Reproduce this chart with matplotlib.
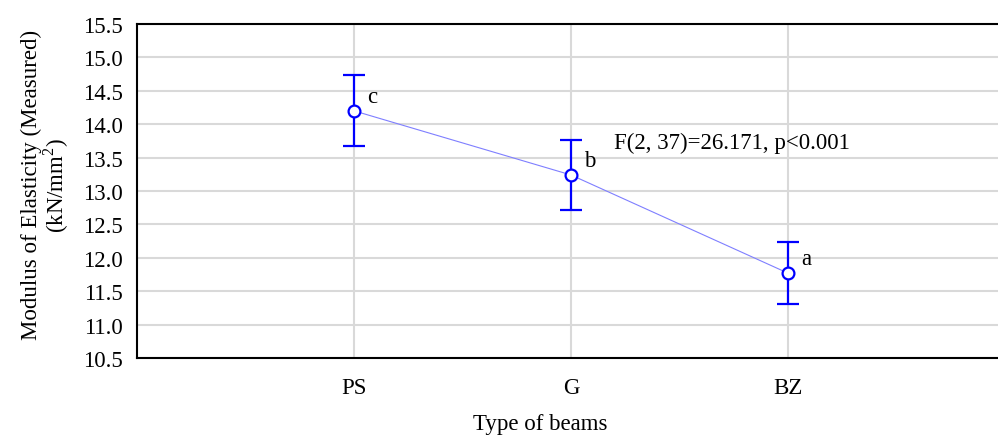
import matplotlib.pyplot as plt
import numpy as np

plt.rcParams['font.family'] = ['Liberation Serif', 'DejaVu Serif']
plt.rcParams['mathtext.fontset'] = 'custom'
plt.rcParams['mathtext.rm'] = 'Liberation Serif'

# data
beams = ['PS', 'G', 'BZ']
moe_mean = [14.20, 13.24, 11.77]
moe_err = [0.53, 0.52, 0.46]
letters = ['c', 'b', 'a']

fs = 16.5
fig = plt.figure(figsize=(9.98, 4.39), dpi=100)
ax = fig.add_axes([137/998, 1-359/439, 868/998, 334/439])

xpos = np.arange(1, len(beams)+1)
ax.plot(xpos, moe_mean, color='#7f7fff', lw=0.8, zorder=2)
ax.errorbar(xpos, moe_mean, yerr=moe_err, fmt='none', ecolor='#0000ff',
            elinewidth=1.6, capsize=8, capthick=1.6, zorder=3)
ax.plot(xpos, moe_mean, 'o', ms=8.5, mfc='white', mec='#0000ff', mew=1.6, zorder=4)
for x, y, t in zip(xpos, moe_mean, letters):
    ax.text(x+0.06, y+0.22, t, fontsize=fs, ha='left', va='center')

ax.text(2.2, 13.73, 'F(2, 37)=26.171, p<0.001', fontsize=fs, ha='left', va='center')

ax.set_xlim(0, 4)
ax.set_ylim(10.5, 15.5)
ax.set_xticks(xpos)
ax.set_xticklabels(beams)
ax.set_yticks(np.arange(10.5, 15.51, 0.5))
ax.set_yticklabels(['%.1f' % v for v in np.arange(10.5, 15.51, 0.5)])
ax.tick_params(labelsize=fs, length=0)
ax.tick_params(axis='y', pad=10)
ax.tick_params(axis='x', pad=14)
ax.grid(True, color='#d9d9d9', lw=1.5)
ax.set_axisbelow(True)
ax.spines['right'].set_visible(False)
for s in ['left', 'bottom', 'top']:
    ax.spines[s].set_linewidth(1.5)

fig.text(540/998, 1-425/439, 'Type of beams', fontsize=fs, ha='center', va='center')
fig.text(46/998, 1-185/439, 'Modulus of Elasticity (Measured)\n(kN/mm$^2$)',
         fontsize=fs, ha='center', va='center', rotation=90, linespacing=1.0)

fig.savefig('out.png', dpi=100)
